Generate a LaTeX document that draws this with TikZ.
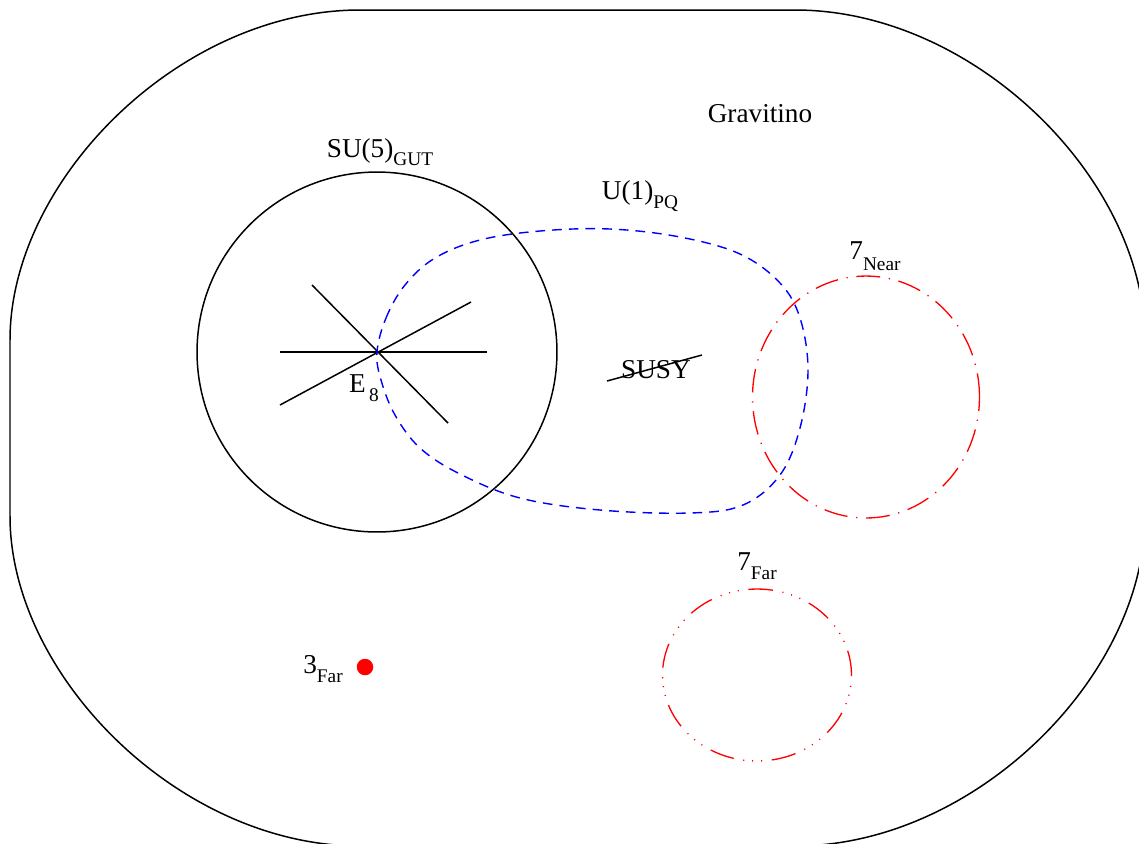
\documentclass[tikz,border=0pt]{standalone}
\usepackage{fontspec}
\setmainfont{Liberation Serif}
\usetikzlibrary{shapes.geometric, positioning}
% lowered, smaller index text
\newcommand{\lowsub}[2][0.32em]{\raisebox{-#1}{\fontsize{11}{11}\selectfont #2}}

\begin{document}
\begin{tikzpicture}[
        x=0.02cm, y=-0.02cm,
        % Style for the group regions
        region/.style={draw, circle, line width=0.85pt, inner sep=0pt},
        % Style for the red rings
        ring/.style={draw=red, ellipse, line width=0.75pt, inner sep=0pt},
        tag/.style={font=\fontsize{15.5}{18}\selectfont, inner sep=1pt},
        stroke/.style={line width=0.85pt}
    ]

    \useasboundingbox (0,0) rectangle (1139,843);

    % ==========================================
    % OUTER GRAVITINO REGION
    % ==========================================
    \begin{scope}
        \clip (0,0) rectangle (1139,843);
        \draw[stroke] (10,340) .. controls (10,180) and (180,10) .. (360,10)
            -- (795,10) .. controls (975,10) and (1145,180) .. (1145,340)
            -- (1145,516) .. controls (1145,676) and (975,846) .. (795,846)
            -- (360,846) .. controls (180,846) and (10,676) .. (10,516)
            -- cycle;
    \end{scope}
    \node[tag] (gravitino) at (760,114) {Gravitino};

    % ==========================================
    % SU(5) CIRCLE WITH E8 STAR
    % ==========================================
    \node[region, minimum size=7.2cm] (su5) at (377,352) {};
    \node[tag] (su5lbl) at (380,152) {SU(5)\lowsub{GUT}};

    \draw[stroke] (280,352) -- (487,352);
    \draw[stroke] (312,285) -- (448,423);
    \draw[stroke] (280,405) -- (471,302);
    \node[tag] (e8) at (364,388) {E\lowsub{\,8}};

    % ==========================================
    % U(1) PQ REGION (blue dashed)
    % ==========================================
    \draw[blue, line width=0.8pt, dash pattern=on 5.5pt off 4pt]
        plot[smooth cycle, tension=0.6] coordinates {
            (377,352) (386,318) (405,285) (435,258) (480,240) (540,231)
            (610,229) (680,237) (740,254) (780,283) (800,318) (808,370)
            (800,428) (780,475) (743,505) (690,513) (600,510) (520,498)
            (460,474) (420,448) (395,415) (381,380)};
    \node[tag] (u1lbl) at (640,196) {U(1)\lowsub{PQ}};

    % broken SUSY
    \node[tag] (susy) at (656,370) {SUSY};
    \draw[stroke] (607,381) -- (702,355);

    % ==========================================
    % RED RINGS AND POINT
    % ==========================================
    \node[ring, minimum width=4.54cm, minimum height=4.84cm,
        dash pattern=on 13.5pt off 5pt on 0.7pt off 5pt] (near) at (866,397) {};
    \node[tag] (nearlbl) at (875,256) {7\lowsub[0.4em]{Near}};

    \node[ring, minimum width=3.78cm, minimum height=3.44cm,
        dash pattern=on 14pt off 5.5pt on 0.6pt off 4.5pt on 0.6pt off 4.5pt on 0.6pt off 5.5pt] (far) at (757,675) {};
    \node[tag] (farlbl) at (757,566) {7\lowsub[0.35em]{Far}};

    \node[circle, fill=red, minimum size=0.33cm, inner sep=0pt] (dot) at (365,667) {};
    \node[tag] (dotlbl) at (323,669) {3\lowsub{Far}};

\end{tikzpicture}
\end{document}
